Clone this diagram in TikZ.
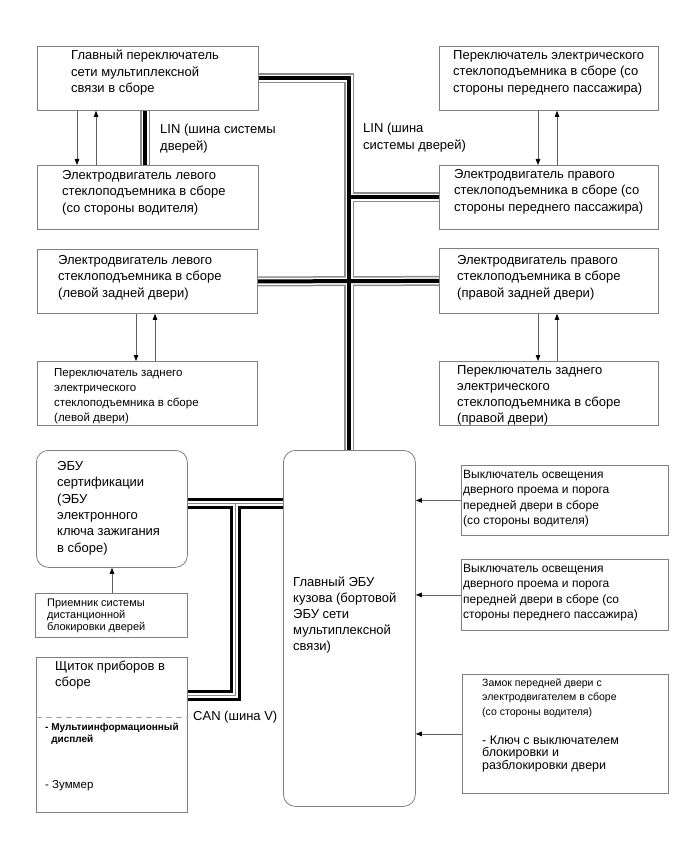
\documentclass[tikz,border=0pt]{standalone}
\usepackage{fontspec}
\setmainfont{Liberation Sans}
\usetikzlibrary{arrows.meta,positioning}
\definecolor{BoxGray}{RGB}{128,128,128}
\definecolor{WireGray}{RGB}{95,95,95}
\definecolor{BusGray}{RGB}{140,140,140}
\tikzset{
  unit/.style={draw=BoxGray,line width=0.8pt,anchor=north west,inner sep=0pt},
  ecubox/.style={unit,rounded corners=12pt},
  txt/.style={align=left,inner sep=0pt,anchor=north west,font=\fontsize{13}{16.5}\selectfont},
  midtxt/.style={txt,font=\fontsize{12}{15.5}\selectfont},
  smalltxt/.style={txt,font=\fontsize{11.5}{15}\selectfont},
  tinytxt/.style={txt,font=\fontsize{10.5}{14.5}\selectfont},
  sig/.style={draw=WireGray,line width=0.8pt,-{Triangle[length=6pt,width=4.5pt,color=black]}}
}

\begin{document}
\begin{tikzpicture}[x=1pt,y=-1pt]
\fill[white](0,0)rectangle(690,853);
\useasboundingbox(0,0)rectangle(690,853);
% door units, left column
\node[unit,minimum width=221pt,minimum height=64pt](swmain)at(37,46){};
\node[unit,minimum width=221pt,minimum height=64pt](mtrL)at(37,165){};
\node[unit,minimum width=220pt,minimum height=64pt](mtrRL)at(37,249){};
\node[unit,minimum width=220pt,minimum height=64pt](swRL)at(37,361){};
% door units, right column
\node[unit,minimum width=219pt,minimum height=64pt](swR)at(439,46){};
\node[unit,minimum width=219pt,minimum height=64pt](mtrR)at(439,165){};
\node[unit,minimum width=219pt,minimum height=65pt](mtrRR)at(439,248){};
\node[unit,minimum width=219pt,minimum height=64pt](swRR)at(439,361){};
% ECUs and the rest
\node[ecubox,minimum width=151pt,minimum height=117pt](cert)at(36,450){};
\node[unit,minimum width=152pt,minimum height=44pt](recv)at(35,593){};
\node[unit,minimum width=151pt,minimum height=155pt](cluster)at(36,657){};
\node[ecubox,minimum width=132pt,minimum height=356pt](ecu)at(283,450){};
\node[unit,minimum width=207pt,minimum height=70pt](dlsD)at(461,465){};
\node[unit,minimum width=207pt,minimum height=71pt](dlsP)at(461,559){};
\node[unit,minimum width=206pt,minimum height=119pt](lock)at(462,674){};

% texts
\node[txt,below right=4pt and 34pt of swmain.north west](swmain-t){Главный переключатель\\сети мультиплексной\\связи в сборе};
\node[txt,below right=5pt and 25pt of mtrL.north west](mtrL-t){Электродвигатель левого\\стеклоподъемника в сборе\\(со стороны водителя)};
\node[txt,below right=6pt and 21pt of mtrRL.north west](mtrRL-t){Электродвигатель левого\\стеклоподъемника в сборе\\(левой задней двери)};
\node[smalltxt,below right=7pt and 17pt of swRL.north west](swRL-t){Переключатель заднего\\электрического\\стеклоподъемника в сборе\\(левой двери)};
\node[txt,below right=4pt and 14pt of swR.north west](swR-t){Переключатель электрического\\стеклоподъемника в сборе (со\\стороны переднего пассажира)};
\node[txt,below right=4pt and 15pt of mtrR.north west](mtrR-t){Электродвигатель правого\\стеклоподъемника в сборе (со\\стороны переднего пассажира)};
\node[txt,below right=7pt and 18pt of mtrRR.north west](mtrRR-t){Электродвигатель правого\\стеклоподъемника в сборе\\(правой задней двери)};
\node[txt,below right=4pt and 18pt of swRR.north west,font=\fontsize{13}{16}\selectfont](swRR-t){Переключатель заднего\\электрического\\стеклоподъемника в сборе\\(правой двери)};
\node[txt,below right=11pt and 21pt of cert.north west,font=\fontsize{13}{16.4}\selectfont](cert-t){ЭБУ\\сертификации\\(ЭБУ\\электронного\\ключа зажигания\\в сборе)};
\node[txt,below right=6pt and 12pt of recv.north west,font=\fontsize{11}{12}\selectfont](recv-t){Приемник системы\\дистанционной\\блокировки дверей};
\node[txt,below right=4pt and 19pt of cluster.north west,font=\fontsize{13}{16}\selectfont](cluster-t){Щиток приборов в\\сборе};
\node[txt,below right=66pt and 9pt of cluster.north west,font=\fontsize{10}{12}\selectfont\bfseries](cluster-m){-~Мультиинформационный\\\phantom{-~}дисплей};
\node[txt,below right=123pt and 9pt of cluster.north west,font=\fontsize{11.5}{14}\selectfont](cluster-z){-~Зуммер};
\node[txt,below right=127pt and 10pt of ecu.north west,font=\fontsize{13}{16}\selectfont](ecu-t){Главный ЭБУ\\кузова (бортовой\\ЭБУ сети\\мультиплексной\\связи)};
\node[midtxt,below right=5pt and 2pt of dlsD.north west](dlsD-t){Выключатель освещения\\дверного проема и порога\\передней двери в сборе\\(со стороны водителя)};
\node[midtxt,below right=5pt and 2pt of dlsP.north west](dlsP-t){Выключатель освещения\\дверного проема и порога\\передней двери в сборе (со\\стороны переднего пассажира)};
\node[tinytxt,below right=4pt and 20pt of lock.north west](lock-t){Замок передней двери с\\электродвигателем в сборе\\(со стороны водителя)};
\node[txt,below right=62pt and 20pt of lock.north west,font=\fontsize{12.5}{11.5}\selectfont](lock-k){-~Ключ с выключателем\\блокировки и\\разблокировки двери};
\draw[BoxGray!70,line width=0.8pt,dash pattern=on 6pt off 4pt]([yshift=-60pt]cluster.north west)--([yshift=-60pt]cluster.north east);

% bus labels
\node[txt](linL)at(160,124){LIN (шина системы\\дверей)};
\node[txt](linR)at(363,123){LIN (шина\\системы дверей)};
\node[txt](canL)at(193,711){CAN (шина V)};

% LIN bus
\coordinate(canT)at(235,503);
\coordinate(canB)at(235,695);
\foreach \lw/\lc in {10/BusGray,7/white,4/black}{
  \draw[line width=\lw pt,draw=\lc](swmain.east)--(swmain.east -| ecu.north)--(ecu.north);
  \draw[line width=\lw pt,draw=\lc](ecu.north |- mtrR.west)--(mtrR.west);
  \draw[line width=\lw pt,draw=\lc](mtrRL.east)--(mtrRR.west);
  \draw[line width=\lw pt,draw=\lc]([xshift=108pt]swmain.south west)--([xshift=108pt]mtrL.north west);
}
% CAN bus
\foreach \lw/\lc in {11/black,5/white,1/BusGray}{
  \draw[line width=\lw pt,draw=\lc](cert.east |- canT)--(ecu.west |- canT);
  \draw[line width=\lw pt,draw=\lc](canT)--(canB)--(cluster.east |- canB);
}

% signal lines
\draw[sig]([xshift=40pt]swmain.south west)--([xshift=40pt]mtrL.north west);
\draw[sig]([xshift=59pt]mtrL.north west)--([xshift=59pt]swmain.south west);
\draw[sig]([xshift=99pt]swR.south west)--([xshift=99pt]mtrR.north west);
\draw[sig]([xshift=118pt]mtrR.north west)--([xshift=118pt]swR.south west);
\draw[sig]([xshift=99pt]mtrRL.south west)--([xshift=99pt]swRL.north west);
\draw[sig]([xshift=118pt]swRL.north west)--([xshift=118pt]mtrRL.south west);
\draw[sig]([xshift=99pt]mtrRR.south west)--([xshift=99pt]swRR.north west);
\draw[sig]([xshift=118pt]swRR.north west)--([xshift=118pt]mtrRR.south west);
\draw[sig]([xshift=77pt]recv.north west)--([xshift=76pt]cert.south west);
\draw[sig](dlsD.west)--(dlsD.west -| ecu.east);
\draw[sig](dlsP.west)--(dlsP.west -| ecu.east);
\draw[sig](lock.west)--(lock.west -| ecu.east);
\end{tikzpicture}
\end{document}
